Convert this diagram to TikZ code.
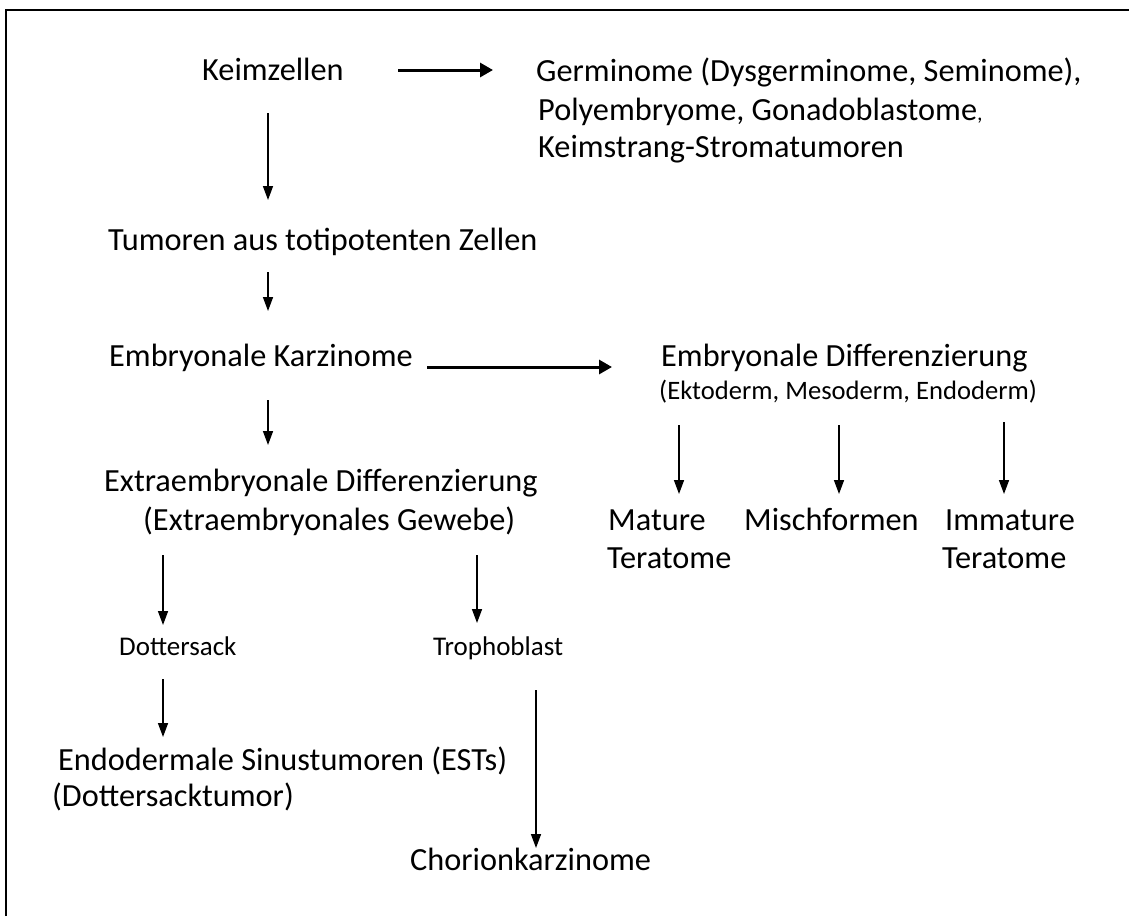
\documentclass[tikz,border=0pt]{standalone}
\usepackage{fontspec}
\setmainfont{Carlito}
\usetikzlibrary{arrows.meta}
\tikzset{
  txtbase/.style={anchor=base west, inner sep=0pt, yshift=-3pt},
  txt/.style={txtbase, font=\fontsize{32.3}{38}\selectfont},
  small/.style={txtbase, font=\fontsize{26.6}{32}\selectfont},
  tiny/.style={txtbase, font=\fontsize{27}{32}\selectfont},
  varrow/.style={line width=1.5pt, -{Triangle[length=14pt,width=10pt]}},
  harrow/.style={line width=3pt, -{Triangle[length=13pt,width=14pt]}},
}
\begin{document}
\begin{tikzpicture}[x=1pt,y=-1pt]
\useasboundingbox (0,0) rectangle (1129,916);
\draw[line width=2pt] (6,916) -- (6,10) -- (1129,10);

\node[txt] (keim) at (202,77) {Keimzellen};
\node[txt] (germ1) at (536,78) {Germinome (Dysgerminome, Seminome),};
\node[txt] (germ2) at (538,117) {Polyembryome, Gonadoblastome{\fontsize{22}{26}\selectfont,}};
\node[txt] (germ3) at (538,154) {Keimstrang-Stromatumoren};
\node[txt] (tumor) at (108,247) {Tumoren aus totipotenten Zellen};
\node[txt] (ek) at (109,363) {Embryonale Karzinome};
\node[txt] (ed) at (661,363) {Embryonale Differenzierung};
\node[small] (ekto) at (659,396) {(Ektoderm, Mesoderm, Endoderm)};
\node[txt] (mat1) at (608,527) {Mature};
\node[txt] (mat2) at (607,565) {Teratome};
\node[txt] (misch) at (744,527) {Mischformen};
\node[txt] (imm1) at (945,527) {Immature};
\node[txt] (imm2) at (942,565) {Teratome};
\node[txt] (exd) at (104,488) {Extraembryonale Differenzierung};
\node[txt] (exg) at (143,527) {(Extraembryonales Gewebe)};
\node[tiny] (dott) at (119,652) {Dottersack};
\node[tiny] (troph) at (433,652) {Trophoblast};
\node[txt] (endo) at (58,767) {Endodermale Sinustumoren (ESTs)};
\node[txt] (dtumor) at (52,803) {(Dottersacktumor)};
\node[txt] (chor) at (410,867) {Chorionkarzinome};

\coordinate (a1s) at (398,70);   \coordinate (a1e) at (493,70);
\coordinate (a2s) at (268,113);  \coordinate (a2e) at (268,200);
\coordinate (a3s) at (268,272);  \coordinate (a3e) at (268,311);
\coordinate (a4s) at (427,367);  \coordinate (a4e) at (612,367);
\coordinate (a5s) at (268,400);  \coordinate (a5e) at (268,445);
\coordinate (a6s) at (679,425);  \coordinate (a6e) at (679,494);
\coordinate (a7s) at (839,425);  \coordinate (a7e) at (839,494);
\coordinate (a8s) at (1004,422); \coordinate (a8e) at (1004,494);
\coordinate (a9s) at (163,555);  \coordinate (a9e) at (163,625);
\coordinate (a10s) at (477,555); \coordinate (a10e) at (477,623);
\coordinate (a11s) at (163,679); \coordinate (a11e) at (163,737);
\coordinate (a12s) at (536,690); \coordinate (a12e) at (536,848);

\draw[harrow] (a1s) -- (a1e);
\draw[varrow] (a2s) -- (a2e);
\draw[varrow] (a3s) -- (a3e);
\draw[harrow] (a4s) -- (a4e);
\draw[varrow] (a5s) -- (a5e);
\draw[varrow] (a6s) -- (a6e);
\draw[varrow] (a7s) -- (a7e);
\draw[varrow] (a8s) -- (a8e);
\draw[varrow] (a9s) -- (a9e);
\draw[varrow] (a10s) -- (a10e);
\draw[varrow] (a11s) -- (a11e);
\draw[varrow] (a12s) -- (a12e);
\end{tikzpicture}
\end{document}
